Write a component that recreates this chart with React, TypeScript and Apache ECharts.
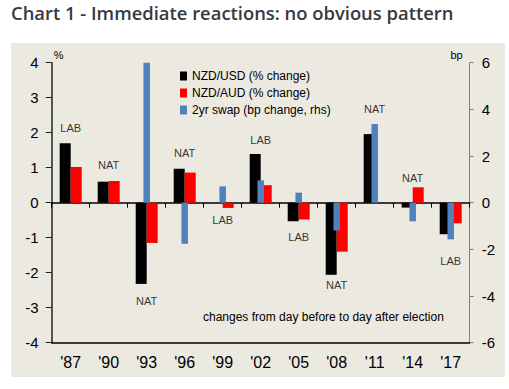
import React, { useEffect, useRef } from "react";
import * as echarts from "echarts";

const categories = ["'87", "'90", "'93", "'96", "'99", "'02", "'05", "'08", "'11", "'14", "'17"];
const nzdUsd = [1.7, 0.6, -2.32, 0.97, 0, 1.39, -0.53, -2.06, 1.96, -0.14, -0.9];
const nzdAud = [1.02, 0.62, -1.15, 0.86, -0.15, 0.5, -0.48, -1.4, 0, 0.44, -0.59];
const swap2y = [0, 0, 9, -1.76, 0.7, 0.96, 0.43, -1.19, 3.37, -0.8, -1.57];
const parties = ["LAB", "NAT", "NAT", "NAT", "LAB", "LAB", "LAB", "NAT", "NAT", "NAT", "LAB"];
const partyLabelLevel = [2.14, 1.08, -2.81, 1.42, -0.49, 1.79, -0.98, -2.35, 2.67, 0.7, -1.67];

const FONT = "Liberation Sans, Arial, sans-serif";

export default function App() {
  const ref = useRef<HTMLDivElement>(null);
  useEffect(() => {
    if (!ref.current) return;
    const chart = echarts.init(ref.current, null, { renderer: "svg" });
    chart.setOption({
      animation: false,
      backgroundColor: "#ffffff",
      title: {
        text: "Chart 1 - Immediate reactions: no obvious pattern",
        left: 11,
        top: 3,
        padding: 0,
        textStyle: { fontFamily: "Open Sans", fontSize: 18.4, fontWeight: 600, color: "#383840" },
      },
      graphic: [
        {
          type: "rect",
          z: -100,
          shape: { x: 11, y: 43, width: 494, height: 334 },
          style: { fill: "#ECE9E1" },
          silent: true,
        },
        {
          type: "text",
          x: 203,
          y: 317,
          style: {
            text: "changes from day before to day after election",
            fontFamily: FONT,
            fontSize: 12,
            fill: "#000",
            verticalAlign: "middle",
          },
        },
      ],
      legend: {
        data: ["NZD/USD (% change)", "NZD/AUD (% change)", "2yr swap (bp change, rhs)"],
        orient: "vertical",
        left: 180,
        top: 70,
        padding: 0,
        itemWidth: 7,
        itemHeight: 9,
        itemGap: 5,
        icon: "rect",
        textStyle: { fontFamily: FONT, fontSize: 12, color: "#000" },
      },
      grid: { left: 51.7, right: 39.3, top: 62.7, bottom: 46.3, containLabel: false },
      xAxis: [
        {
          type: "category",
          data: categories,
          position: "bottom",
          axisLine: { onZero: false, lineStyle: { color: "#000", width: 1.5 } },
          axisTick: { show: false },
          axisLabel: { fontFamily: FONT, fontSize: 16, color: "#000", margin: 12 },
          splitLine: { show: false },
        },
        {
          type: "category",
          data: categories,
          position: "top",
          axisLine: { onZero: true, onZeroAxisIndex: 0, lineStyle: { color: "#000", width: 1.5 } },
          axisTick: { show: true, inside: true, length: 5, lineStyle: { color: "#000", width: 1 } },
          axisLabel: { show: false },
          splitLine: { show: false },
        },
      ],
      yAxis: [
        {
          type: "value",
          min: -4,
          max: 4,
          interval: 1,
          position: "left",
          name: "%",
          nameLocation: "end",
          nameGap: 2,
          nameTextStyle: { fontFamily: FONT, fontSize: 11, color: "#000", align: "left", verticalAlign: "bottom", padding: [0, 0, 0, 2] },
          axisLine: { show: true, lineStyle: { color: "#222", width: 1.5 } },
          axisTick: { show: true, length: 6, lineStyle: { color: "#222", width: 1 } },
          axisLabel: { fontFamily: FONT, fontSize: 15, color: "#000", margin: 13 },
          splitLine: { show: false },
        },
        {
          type: "value",
          min: -6,
          max: 6,
          interval: 2,
          position: "right",
          name: "bp",
          nameLocation: "end",
          nameGap: 2,
          nameTextStyle: { fontFamily: FONT, fontSize: 11, color: "#000", align: "right", verticalAlign: "bottom", padding: [0, 7, 0, 0] },
          axisLine: { show: true, lineStyle: { color: "#808080", width: 1 } },
          axisTick: { show: true, length: 4, lineStyle: { color: "#808080", width: 1 } },
          axisLabel: { fontFamily: FONT, fontSize: 15, color: "#000", margin: 12 },
          splitLine: { show: false },
        },
      ],
      series: [
        {
          name: "NZD/USD (% change)",
          type: "bar",
          xAxisIndex: 0,
          yAxisIndex: 0,
          data: nzdUsd,
          barWidth: 11,
          barGap: "0%",
          itemStyle: { color: "#000000" },
        },
        {
          name: "NZD/AUD (% change)",
          type: "bar",
          xAxisIndex: 0,
          yAxisIndex: 0,
          data: nzdAud,
          barWidth: 11,
          barGap: "0%",
          itemStyle: { color: "#FF0000" },
        },
        {
          name: "2yr swap (bp change, rhs)",
          type: "bar",
          xAxisIndex: 1,
          yAxisIndex: 1,
          data: swap2y,
          barWidth: 6.5,
          clip: true,
          itemStyle: { color: "#4F81BD" },
        },
        {
          name: "parties",
          type: "scatter",
          xAxisIndex: 0,
          yAxisIndex: 0,
          symbolSize: 0,
          silent: true,
          data: parties.map((p, i) => ({ name: p, value: [categories[i], partyLabelLevel[i]] })),
          label: {
            show: true,
            position: "inside",
            formatter: "{b}",
            fontFamily: FONT,
            fontSize: 11,
            color: "#000",
          },
        },
      ],
    });
    return () => chart.dispose();
  }, []);
  return <div ref={ref} style={{ position: "absolute", left: 0, top: 0, width: 509, height: 389 }} />;
}
